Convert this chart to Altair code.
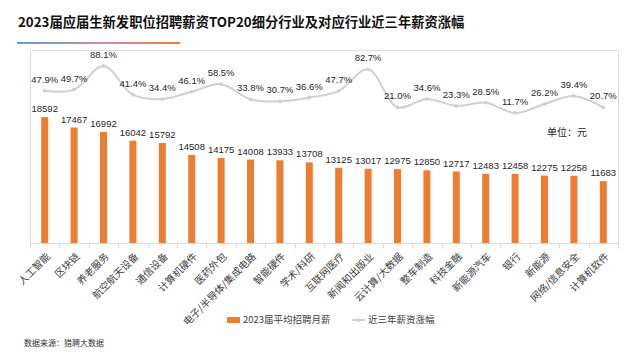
import altair as alt
import pandas as pd

categories = ["人工智能", "区块链", "养老服务", "航空航天设备", "通信设备", "计算机硬件", "医药外包",
              "电子/半导体/集成电路", "智能硬件", "学术/科研", "互联网医疗", "新闻和出版业", "云计算/大数据",
              "整车制造", "科技金融", "新能源汽车", "银行", "新能源", "网络/信息安全", "计算机软件"]
salaries = [18592, 17467, 16992, 16042, 15792, 14508, 14175, 14008, 13933, 13708,
            13125, 13017, 12975, 12850, 12717, 12483, 12458, 12275, 12258, 11683]
growth = [47.9, 49.7, 88.1, 41.4, 34.4, 46.1, 58.5, 33.8, 30.7, 36.6,
          47.7, 82.7, 21.0, 34.6, 23.3, 28.5, 11.7, 26.2, 39.4, 20.7]

title_text = "2023届应届生新发职位招聘薪资TOP20细分行业及对应行业近三年薪资涨幅"
unit_text = "单位：元"
source_text = "数据来源：猎聘大数据"
legend_bar = "2023届平均招聘月薪"
legend_line = "近三年薪资涨幅"

df = pd.DataFrame({"cat": categories, "salary": salaries, "growth": growth})

CJK = "Noto Sans CJK SC"
ORANGE = "#ED7D31"
GREY = "#D0D0D0"
W, H = 588, 193

x = alt.X("cat:N", sort=categories, title=None,
          scale=alt.Scale(paddingInner=0, paddingOuter=0),
          axis=alt.Axis(labelAngle=-45, labelFont=CJK, labelFontSize=10, labelColor="#404040",
                        domainColor="#D9D9D9", tickColor="#D9D9D9", tickSize=5, tickBand="extent",
                        labelPadding=3))

base = alt.Chart(df)
ybar = alt.Y("salary:Q", scale=alt.Scale(domain=[5000, 25840], zero=False), axis=None)
bars = base.mark_bar(color=ORANGE, size=7).encode(x=x, y=ybar, y2=alt.datum(5000))
bar_labels = base.mark_text(font="Liberation Sans", fontSize=9.5, color="#262626",
                            baseline="bottom", dy=-3).encode(x=x, y=ybar, text=alt.Text("salary:Q", format="d"))
bar_layer = alt.layer(bars, bar_labels)

yline = alt.Y("growth:Q", scale=alt.Scale(domain=[-199.7, 114.1], zero=False), axis=None)
line = base.mark_line(color=GREY, strokeWidth=2, interpolate="catmull-rom").encode(x=x, y=yline)
pts = base.mark_point(filled=True, color=GREY, size=14, opacity=1).encode(x=x, y=yline)
line_labels = base.transform_calculate(lbl="format(datum.growth, '.1f') + '%'").mark_text(
    font="Liberation Sans", fontSize=9.5, color="#262626", baseline="middle", dy=-11
).encode(x=x, y=yline, text="lbl:N")
line_layer = alt.layer(line, pts, line_labels)

one = pd.DataFrame({"a": [0]})
def txt(s, xv, yv, size, color="#262626", weight="normal", align="left", font=CJK):
    return alt.Chart(one).mark_text(text=s, font=font, fontSize=size, color=color, fontWeight=weight,
                                    align=align, baseline="middle").encode(x=alt.value(xv), y=alt.value(yv))

title = txt(title_text, -12, -27, 13.3, color="#111111", weight="bold")
grad = alt.Chart(one).mark_rect(
    fill=alt.Gradient(gradient="linear", stops=[alt.GradientStop(color="#5B9BD5", offset=0),
                                                alt.GradientStop(color="#C58FB5", offset=0.5),
                                                alt.GradientStop(color="#ED7D31", offset=1)],
                      x1=0, x2=1, y1=0, y2=0)
).encode(x=alt.value(-13), x2=alt.value(150), y=alt.value(-8), y2=alt.value(-6))
unit = txt(unit_text, 517, 83, 10)
source = txt(source_text, -6, 294, 8, color="#333333")
leg_rect = alt.Chart(one).mark_rect(color=ORANGE).encode(
    x=alt.value(197), x2=alt.value(210), y=alt.value(267), y2=alt.value(273))
leg_t1 = txt(legend_bar, 213, 270, 9.5, color="#404040")
leg_line = alt.Chart(one).mark_rule(color=GREY, strokeWidth=2).encode(
    x=alt.value(322), x2=alt.value(335), y=alt.value(270))
leg_dot = alt.Chart(one).mark_point(filled=True, color=GREY, size=14, opacity=1).encode(
    x=alt.value(328.5), y=alt.value(270))
leg_t2 = txt(legend_line, 338, 270, 9.5, color="#404040")

chart = alt.layer(bar_layer, line_layer, title, grad, unit, source,
                  leg_rect, leg_t1, leg_line, leg_dot, leg_t2).resolve_scale(
    y="independent"
).properties(
    width=W, height=H, autosize=alt.AutoSizeParams(type="none"),
    padding={"left": 22, "top": 42, "right": 14, "bottom": 109}
).configure_view(stroke=None).configure(background="white")

chart.save("out.html", embed_options={"renderer": "svg", "actions": False})
